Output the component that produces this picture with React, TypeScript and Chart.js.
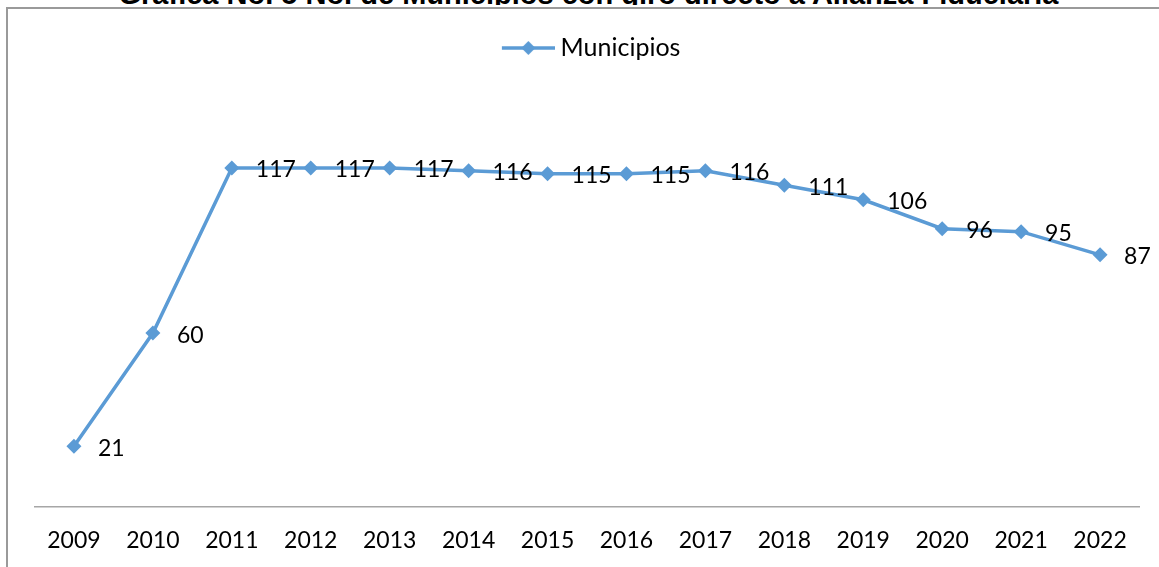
import React, { useEffect, useRef } from "react";
import { Chart, registerables } from "chart.js";

Chart.register(...registerables);

const TITLE = "Gráfica No. 5 No. de Municipios con giro directo a Alianza Fiduciaria";
const YEARS = ["2009", "2010", "2011", "2012", "2013", "2014", "2015", "2016", "2017", "2018", "2019", "2020", "2021", "2022"];
const MUNICIPIOS = [21, 60, 117, 117, 117, 116, 115, 115, 116, 111, 106, 96, 95, 87];
const SERIES_LABEL = "Municipios";

const BLUE = "#5B9BD5";
const FONT = "Lato, 'Noto Sans', sans-serif";

// legend symbol: line with a diamond in the middle (drawn inside a wider, left-padded image)
function makeLegendSymbol(): HTMLCanvasElement {
  const c = document.createElement("canvas");
  c.width = 68;
  c.height = 16;
  const ctx = c.getContext("2d")!;
  ctx.strokeStyle = BLUE;
  ctx.lineWidth = 3.5;
  ctx.beginPath();
  ctx.moveTo(15, 8);
  ctx.lineTo(68, 8);
  ctx.stroke();
  ctx.fillStyle = BLUE;
  const cx = 41.5;
  ctx.beginPath();
  ctx.moveTo(cx, 1);
  ctx.lineTo(cx + 7, 8);
  ctx.lineTo(cx, 15);
  ctx.lineTo(cx - 7, 8);
  ctx.closePath();
  ctx.fill();
  return c;
}

const valueLabels = {
  id: "valueLabels",
  afterDatasetsDraw(chart: any) {
    const ctx = chart.ctx;
    const meta = chart.getDatasetMeta(0);
    const data = chart.data.datasets[0].data;
    ctx.save();
    ctx.font = `23px ${FONT}`;
    ctx.fillStyle = "#000";
    ctx.textAlign = "left";
    ctx.textBaseline = "middle";
    meta.data.forEach((pt: any, i: number) => {
      ctx.fillText(String(data[i]), pt.x + 24, pt.y + 2);
    });
    ctx.restore();
  },
};

export default function App() {
  const ref = useRef<HTMLCanvasElement>(null);

  useEffect(() => {
    if (!ref.current) return;
    const symbol = makeLegendSymbol();
    const chart = new Chart(ref.current, {
      type: "line",
      data: {
        labels: YEARS,
        datasets: [
          {
            label: SERIES_LABEL,
            data: MUNICIPIOS,
            borderColor: BLUE,
            backgroundColor: BLUE,
            borderWidth: 3.5,
            pointStyle: "rectRot",
            pointRadius: 7.5,
            pointHoverRadius: 7.5,
            pointBackgroundColor: BLUE,
            pointBorderColor: BLUE,
            pointBorderWidth: 0,
            tension: 0,
          },
        ],
      },
      options: {
        responsive: false,
        animation: false,
        devicePixelRatio: 1,
        layout: { padding: { left: 34.5, right: 19.5, top: 0, bottom: 12.6 } },
        plugins: {
          title: { display: false },
          tooltip: { enabled: false },
          legend: {
            display: true,
            position: "top",
            labels: {
              font: { family: FONT, size: 25 },
              color: "#000",
              usePointStyle: true,
              pointStyleWidth: 54.5,
              padding: 35.5,
              generateLabels: (c: any) => {
                const items = Chart.defaults.plugins.legend.labels.generateLabels(c);
                return items.map((it: any) => ({ ...it, pointStyle: symbol }));
              },
            },
          },
        },
        scales: {
          x: {
            offset: true,
            grid: { display: false, drawTicks: false },
            border: { display: true, color: "#a6a6a6", width: 1.5 },
            ticks: { font: { family: FONT, size: 23 }, color: "#000", padding: 20 },
            afterFit: (scale: any) => {
              scale.height = 47.4;
            },
          },
          y: {
            display: false,
            min: 0,
            max: 150.6,
          },
        },
      },
      plugins: [valueLabels],
    });
    return () => chart.destroy();
  }, []);

  return (
    <div
      style={{
        position: "fixed",
        left: 0,
        top: 0,
        width: 1159,
        height: 567,
        overflow: "hidden",
        background: "#fff",
      }}
    >
      <div
        style={{
          position: "absolute",
          top: -20,
          left: 9,
          width: 1159,
          textAlign: "center",
          font: "bold 29px 'Liberation Sans', Arial, sans-serif",
          lineHeight: "29px",
          whiteSpace: "nowrap",
          color: "#000",
          zIndex: 1,
        }}
      >
        {TITLE}
      </div>
      <div
        style={{
          position: "absolute",
          left: 0,
          top: 5,
          width: 1159,
          height: 562,
          background: "#fff",
          zIndex: 2,
        }}
      />
      <div
        style={{
          position: "absolute",
          left: 6,
          top: 7,
          width: 1200,
          height: 600,
          borderLeft: "2px solid #9a9a9a",
          borderTop: "2px solid #9a9a9a",
          zIndex: 3,
        }}
      />
      <canvas
        ref={ref}
        width={1159}
        height={567}
        style={{ position: "absolute", left: 0, top: 0, zIndex: 4 }}
      />
    </div>
  );
}
